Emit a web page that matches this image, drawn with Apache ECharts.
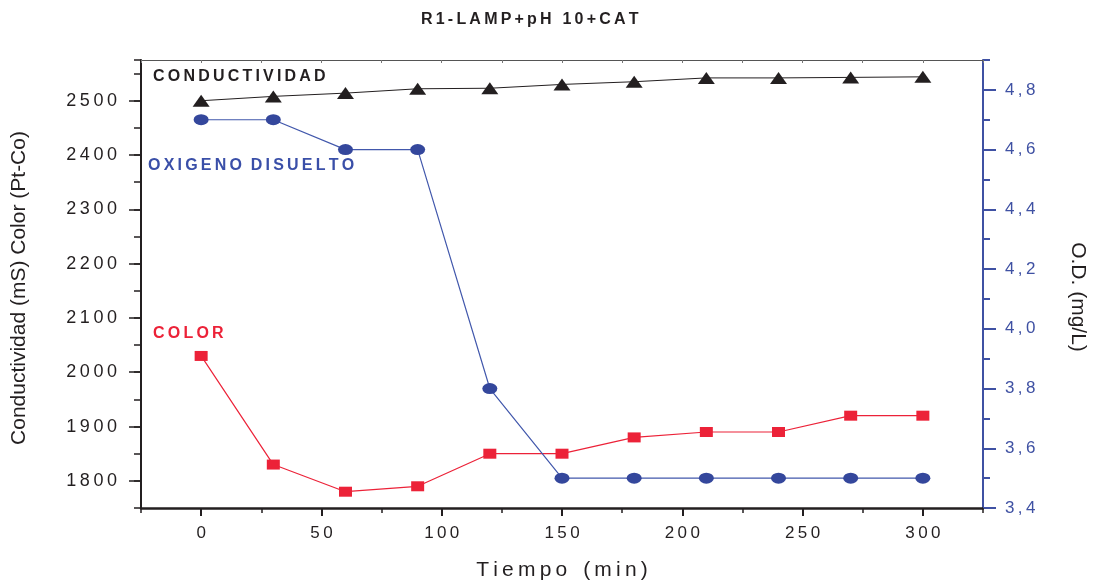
<!DOCTYPE html>
<html>
<head>
<meta charset="utf-8">
<script src="https://cdn.jsdelivr.net/npm/echarts@6/dist/echarts.min.js"></script>
<style>
html,body{margin:0;padding:0;background:#fff;}
#chart{width:1093px;height:581px;}
</style>
</head>
<body>
<div id="chart"></div>
<script>
// ---- data ----
const tiempo = [0, 30, 60, 90, 120, 150, 180, 210, 240, 270, 300];
const conductividad = [2500, 2508, 2514, 2522, 2523, 2530, 2535, 2542, 2542, 2543, 2544];
const color = [2030, 1830, 1780, 1790, 1850, 1850, 1880, 1890, 1890, 1920, 1920];
const oxigeno = [4.7, 4.7, 4.6, 4.6, 3.8, 3.5, 3.5, 3.5, 3.5, 3.5, 3.5];
const xLabelValues = [0, 50, 100, 150, 200, 250, 300];
const leftLabelValues = [1800, 1900, 2000, 2100, 2200, 2300, 2400, 2500];
const rightLabelValues = [3.4, 3.6, 3.8, 4.0, 4.2, 4.4, 4.6, 4.8];

const TS = '\u2009';
const spaced = s => String(s).split('').join(TS);
const FONT = '"Liberation Sans", Arial, Helvetica, sans-serif';
const BLUE = '#34479c';
const RED = '#ec2238';
const BLACK = '#231f20';

const pair = (xs, ys) => xs.map((x, i) => [x, ys[i]]);

const chart = echarts.init(document.getElementById('chart'), null, {renderer: 'canvas'});
const option = {
  backgroundColor: '#fff',
  animation: false,
  textStyle: {fontFamily: FONT},
  title: {
    text: spaced('R1-LAMP+pH 10+CAT'),
    left: 416, top: 7,
    textStyle: {fontFamily: FONT, fontSize: 16, fontWeight: 'bold', color: '#231f20'}
  },
  grid: {left: 141, right: 110, top: 60, bottom: 73, containLabel: false, outerBoundsMode: 'none'},
  xAxis: [
    {
      type: 'value', min: -25, max: 325, interval: 25,
      name: 'T' + TS + 'i' + TS + 'e' + TS + 'm' + TS + 'p' + TS + 'o ' + TS + ' (' + TS + 'm' + TS + 'i' + TS + 'n' + TS + ')',
      nameLocation: 'middle', nameGap: 52,
      nameTextStyle: {fontFamily: FONT, fontSize: 21, color: '#231f20'},
      axisLine: {show: true, onZero: false, lineStyle: {color: '#231f20', width: 2.5}},
      axisTick: {show: true, length: 8, customValues: xLabelValues, lineStyle: {color: '#231f20', width: 2}},
      axisLabel: {customValues: xLabelValues, margin: 17, fontSize: 17, color: '#231f20', formatter: v => spaced(v)},
      splitLine: {show: false}
    },
    {
      type: 'value', min: -25, max: 325, interval: 25, position: 'bottom',
      axisLine: {show: false, onZero: false},
      axisTick: {show: true, length: 5, lineStyle: {color: '#231f20', width: 1.5}},
      axisLabel: {show: false}, splitLine: {show: false}
    },
    {
      type: 'value', min: -25, max: 325, interval: 25, position: 'top',
      axisLine: {show: true, onZero: false, lineStyle: {color: '#555', width: 1}},
      axisTick: {show: true, inside: true, length: 3, lineStyle: {color: '#777', width: 1}},
      axisLabel: {show: false}, splitLine: {show: false}
    }
  ],
  yAxis: [
    {
      type: 'value', min: 1750, max: 2575, interval: 50, position: 'left',
      name: 'Conductividad (mS) Color (Pt-Co)',
      nameLocation: 'middle', nameGap: 111, nameRotate: 90,
      nameTextStyle: {fontFamily: FONT, fontSize: 21, color: '#231f20', padding: [0, 8, 0, 0]},
      axisLine: {show: true, onZero: false, lineStyle: {color: '#231f20', width: 2}},
      axisTick: {show: true, length: 12, customValues: leftLabelValues, lineStyle: {color: '#231f20', width: 1.5}},
      axisLabel: {customValues: leftLabelValues, margin: 24, fontSize: 18, color: '#231f20', formatter: v => spaced(v)},
      splitLine: {show: false}
    },
    {
      type: 'value', min: 3.4, max: 4.9, interval: 0.1, position: 'right',
      name: 'O.D. (mg/L)',
      nameLocation: 'middle', nameGap: 84, nameRotate: -90,
      nameTextStyle: {fontFamily: FONT, fontSize: 21, color: '#231f20', padding: [0, 0, 0, 26]},
      axisLine: {show: true, onZero: false, lineStyle: {color: '#3f51a3', width: 2}},
      axisTick: {show: true, length: 13, customValues: rightLabelValues, lineStyle: {color: '#3f51a3', width: 2}},
      axisLabel: {customValues: rightLabelValues, margin: 22, fontSize: 17, color: '#3f51a3',
        formatter: v => spaced(v.toFixed(1).replace('.', ','))},
      splitLine: {show: false}
    },
    {
      type: 'value', min: 1750, max: 2575, interval: 50, position: 'left',
      axisLine: {show: false, onZero: false},
      axisTick: {show: true, length: 7, lineStyle: {color: '#231f20', width: 1.5}},
      axisLabel: {show: false}, splitLine: {show: false}
    },
    {
      type: 'value', min: 3.4, max: 4.9, interval: 0.1, position: 'right',
      axisLine: {show: false, onZero: false},
      axisTick: {show: true, length: 7, lineStyle: {color: '#3f51a3', width: 2}},
      axisLabel: {show: false}, splitLine: {show: false}
    }
  ],
  series: [
    {
      name: 'CONDUCTIVIDAD', type: 'line', xAxisIndex: 0, yAxisIndex: 0,
      data: pair(tiempo, conductividad),
      symbol: 'triangle', symbolSize: [17, 12], showAllSymbol: true,
      lineStyle: {color: BLACK, width: 1},
      itemStyle: {color: BLACK, borderWidth: 0}, z: 3
    },
    {
      name: 'COLOR', type: 'line', xAxisIndex: 0, yAxisIndex: 0,
      data: pair(tiempo, color),
      symbol: 'rect', symbolSize: [13, 10], showAllSymbol: true,
      lineStyle: {color: RED, width: 1.2},
      itemStyle: {color: RED, borderWidth: 0}, z: 3
    },
    {
      name: 'OXIGENO DISUELTO', type: 'line', xAxisIndex: 0, yAxisIndex: 1,
      data: pair(tiempo, oxigeno),
      symbol: 'circle', symbolSize: [15, 11], showAllSymbol: true,
      lineStyle: {color: '#4258ac', width: 1.2},
      itemStyle: {color: BLUE, borderWidth: 0}, z: 3
    }
  ],
  graphic: [
    {type: 'text', left: 153, top: 69, style: {text: spaced('CONDUCTIVIDAD'), fill: '#231f20', font: 'bold 16px ' + FONT}},
    {type: 'text', left: 148, top: 158, style: {text: 'OXIGENO'.split('').join(TS) + '  ' + 'DISUELTO'.split('').join(TS), fill: '#3a4fa8', font: 'bold 16px ' + FONT}},
    {type: 'text', left: 153, top: 326, style: {text: spaced('COLOR'), fill: RED, font: 'bold 16px ' + FONT}}
  ]
};
chart.setOption(option);
</script>
</body>
</html>
